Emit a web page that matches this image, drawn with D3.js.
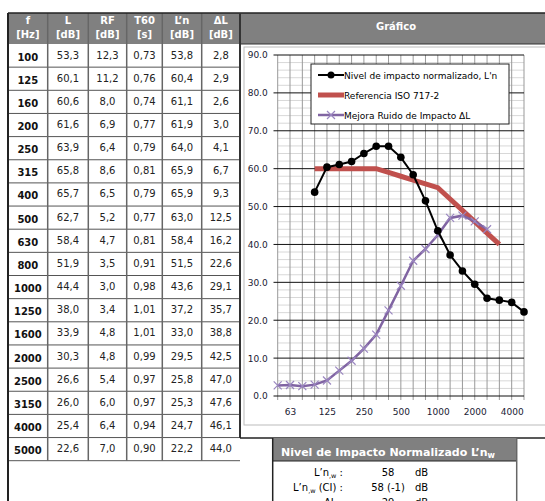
<!DOCTYPE html>
<html>
<head>
<meta charset="utf-8">
<script src="https://cdn.jsdelivr.net/npm/d3@7"></script>
<style>
  body { margin: 0; background: #fff; }
  svg { display: block; font-family: "DejaVu Sans", Verdana, sans-serif; }
</style>
</head>
<body>
<div id="chart"></div>
<script>
// category axis of the graph (third-octave bands)
var axisCats = ["50","63","80","100","125","160","200","250","315","400","500","630","800","1000","1250","1600","2000","2500","3150","4000","5000"];
var axisLabels = ["63","125","250","500","1000","2000","4000"];
var yTicks = [0,10,20,30,40,50,60,70,80,90];

// table data
var freqs  = [100,125,160,200,250,315,400,500,630,800,1000,1250,1600,2000,2500,3150,4000,5000];
var levelL = [53.3,60.1,60.6,61.6,63.9,65.8,65.7,62.7,58.4,51.9,44.4,38.0,33.9,30.3,26.6,26.0,25.4,22.6];
var rf     = [12.3,11.2,8.0,6.9,6.4,8.6,6.5,5.2,4.7,3.5,3.0,3.4,4.8,4.8,5.4,6.0,6.4,7.0];
var t60    = [0.73,0.76,0.74,0.77,0.79,0.81,0.79,0.77,0.81,0.91,0.98,1.01,1.01,0.99,0.97,0.97,0.94,0.90];
var lnPrime = [53.8,60.4,61.1,61.9,64.0,65.9,65.9,63.0,58.4,51.5,43.6,37.2,33.0,29.5,25.8,25.3,24.7,22.2];
var deltaL = [2.8,2.9,2.6,3.0,4.1,6.7,9.3,12.5,16.2,22.6,29.1,35.7,38.8,42.5,47.0,47.6,46.1,44.0];
// shifted ISO 717-2 reference curve, 100..3150 Hz
var isoRef = [60,60,60,60,60,60,59,58,57,56,55,52,49,46,43,40];

var legendNames = ["Nivel de impacto normalizado, L'n", "Referencia ISO 717-2", "Mejora Ruido de Impacto \u0394L"];

var W = 545, H = 501;
var svg = d3.select("#chart").append("svg")
    .attr("width", W)
    .attr("height", H);

var gray = "#808080";
var comma = function (f) { return function (v) { return d3.format(f)(v).replace(".", ","); }; };

// ---------- table ----------
var colX = [8, 47.7, 88.3, 126.7, 162.3, 201.7, 240];
var headTop = 13, headBot = 44, rowH = (460.7 - 44) / 18;
var heads = [["f","[Hz]"],["L","[dB]"],["RF","[dB]"],["T60","[s]"],["L\u2019n","[dB]"],["\u0394L","[dB]"]];

svg.append("rect")
    .attr("x", colX[0]).attr("y", headTop)
    .attr("width", W - colX[0]).attr("height", headBot - headTop)
    .style("fill", gray);

heads.forEach(function (h, i) {
    var cx = (colX[i] + colX[i + 1]) / 2;
    svg.append("text")
        .attr("x", cx).attr("y", 23.5)
        .attr("text-anchor", "middle")
        .style("font-size", "10px").style("font-weight", "bold").style("fill", "#fff")
        .text(h[0]);
    svg.append("text")
        .attr("x", cx).attr("y", 37.5)
        .attr("text-anchor", "middle")
        .style("font-size", "10px").style("font-weight", "bold").style("fill", "#fff")
        .text(h[1]);
});

var cols = [freqs, levelL, rf, t60, lnPrime, deltaL];
var fmts = [d3.format("d"), comma(".1f"), comma(".1f"), comma(".2f"), comma(".1f"), comma(".1f")];

freqs.forEach(function (f, r) {
    var y0 = headBot + r * rowH;
    cols.forEach(function (c, i) {
        svg.append("text")
            .attr("x", (colX[i] + colX[i + 1]) / 2)
            .attr("y", y0 + rowH / 2 + (i === 0 ? 5 : 3))
            .attr("text-anchor", "middle")
            .style("font-size", "10px")
            .style("font-weight", i === 0 ? "bold" : "normal")
            .style("fill", i === 0 ? "#111" : "#222")
            .text(fmts[i](c[r]));
    });
    svg.append("line")
        .attr("x1", colX[0]).attr("x2", colX[6])
        .attr("y1", y0 + rowH).attr("y2", y0 + rowH)
        .style("stroke", "#555").style("stroke-width", 1);
});

colX.slice(1, 6).forEach(function (x) {
    svg.append("line")
        .attr("x1", x).attr("x2", x)
        .attr("y1", headTop).attr("y2", headBot + 18 * rowH)
        .style("stroke", "#666").style("stroke-width", 1.5);
});

// outer dark borders
svg.append("line").attr("x1", colX[0]).attr("x2", W).attr("y1", headTop).attr("y2", headTop)
    .style("stroke", "#222").style("stroke-width", 1.5);
svg.append("line").attr("x1", colX[0]).attr("x2", colX[0]).attr("y1", headTop).attr("y2", H)
    .style("stroke", "#222").style("stroke-width", 2);
svg.append("line").attr("x1", 240).attr("x2", 240).attr("y1", headTop).attr("y2", 438)
    .style("stroke", "#333").style("stroke-width", 2);
svg.append("line").attr("x1", 240).attr("x2", W).attr("y1", headBot).attr("y2", headBot)
    .style("stroke", "#333").style("stroke-width", 1);

svg.append("text")
    .attr("x", 396).attr("y", 30)
    .attr("text-anchor", "middle")
    .style("font-size", "10px").style("font-weight", "bold").style("fill", "#fff")
    .text("Gr\u00e1fico");

// ---------- chart ----------
svg.append("rect")
    .attr("x", 244).attr("y", 47)
    .attr("width", W - 244 + 2).attr("height", 425 - 47)
    .style("fill", "#fff").style("stroke", "#bbb").style("stroke-width", 1);

var x = d3.scalePoint().domain(axisCats).range([277.7, 524]);
var y = d3.scaleLinear().domain([0, 90]).range([396, 55]);

var grid = svg.append("g");
grid.selectAll("line.minor")
    .data(d3.range(0, 91, 2).filter(function (d) { return d % 10 !== 0; }))
    .enter().append("line")
    .attr("x1", 277.7).attr("x2", 524)
    .attr("y1", function (d) { return y(d); }).attr("y2", function (d) { return y(d); })
    .style("stroke", "#d8d8d8").style("stroke-width", 1);
grid.selectAll("line.vert")
    .data(axisCats)
    .enter().append("line")
    .attr("x1", function (d) { return x(d); }).attr("x2", function (d) { return x(d); })
    .attr("y1", y(90)).attr("y2", y(0) + 4)
    .style("stroke", "#999").style("stroke-width", 1);
grid.selectAll("line.major")
    .data(yTicks)
    .enter().append("line")
    .attr("x1", 273.5).attr("x2", 524)
    .attr("y1", function (d) { return y(d); }).attr("y2", function (d) { return y(d); })
    .style("stroke", "#111").style("stroke-width", 1);

// axes
var yAxis = svg.append("g")
    .attr("transform", "translate(277.7,0)")
    .call(d3.axisLeft(y).tickValues(yTicks).tickSize(0).tickPadding(10).tickFormat(d3.format(".1f")));
yAxis.select(".domain").remove();
yAxis.selectAll("text").style("font-size", "9px").style("font-family", "DejaVu Sans").style("fill", "#1a1a33");

var xAxis = svg.append("g")
    .attr("transform", "translate(0,396)")
    .call(d3.axisBottom(x).tickValues(axisLabels).tickSize(0).tickPadding(13));
xAxis.select(".domain").remove();
xAxis.selectAll("text").style("font-size", "9px").style("font-family", "DejaVu Sans").style("fill", "#1a1a33");

// series
var lnPts = lnPrime.map(function (v, i) { return [x(String(freqs[i])), y(v)]; });
var refPts = isoRef.map(function (v, i) { return [x(String(freqs[i])), y(v)]; });
// as in the source sheet, ΔL is plotted from the first category of the axis
var dlPts = deltaL.map(function (v, i) { return [x(axisCats[i]), y(v)]; });

var line = d3.line();

svg.append("path")
    .attr("d", line(refPts))
    .style("fill", "none").style("stroke", "#c0504d").style("stroke-width", 5);

svg.append("path")
    .attr("d", line(dlPts))
    .style("fill", "none").style("stroke", "#8064a2").style("stroke-width", 2.5);
dlPts.forEach(function (p) {
    var s = 4;
    svg.append("path")
        .attr("d", "M" + (p[0] - s) + "," + (p[1] - s) + "L" + (p[0] + s) + "," + (p[1] + s) +
                   "M" + (p[0] - s) + "," + (p[1] + s) + "L" + (p[0] + s) + "," + (p[1] - s))
        .style("stroke", "#9a86c0").style("stroke-width", 1.2).style("fill", "none");
});

svg.append("path")
    .attr("d", line(lnPts))
    .style("fill", "none").style("stroke", "#000").style("stroke-width", 2);
svg.selectAll("circle.ln")
    .data(lnPts)
    .enter().append("circle")
    .attr("cx", function (d) { return d[0]; })
    .attr("cy", function (d) { return d[1]; })
    .attr("r", 3.8)
    .style("fill", "#000");

// legend
var lg = svg.append("g");
lg.append("rect")
    .attr("x", 311).attr("y", 64).attr("width", 198).attr("height", 60)
    .style("fill", "#fff").style("stroke", "#222").style("stroke-width", 1);
legendNames.forEach(function (name, i) {
    var ly = 75 + i * 20;
    var sw = lg.append("g");
    if (i === 0) {
        sw.append("line").attr("x1", 318).attr("x2", 344).attr("y1", ly).attr("y2", ly)
            .style("stroke", "#000").style("stroke-width", 2);
        sw.append("circle").attr("cx", 331).attr("cy", ly).attr("r", 3.5).style("fill", "#000");
    } else if (i === 1) {
        sw.append("line").attr("x1", 318).attr("x2", 344).attr("y1", ly).attr("y2", ly)
            .style("stroke", "#c0504d").style("stroke-width", 5);
    } else {
        sw.append("line").attr("x1", 318).attr("x2", 344).attr("y1", ly).attr("y2", ly)
            .style("stroke", "#8064a2").style("stroke-width", 2.5);
        sw.append("path")
            .attr("d", "M327,111L335,119M327,119L335,111")
            .style("stroke", "#9a86c0").style("stroke-width", 1.2);
    }
    lg.append("text")
        .attr("x", 344).attr("y", ly + 3.5)
        .style("font-size", "9px").style("fill", "#000")
        .text(name);
});

// ---------- bottom summary box ----------
svg.append("line").attr("x1", 240).attr("x2", W).attr("y1", 438).attr("y2", 438)
    .style("stroke", "#222").style("stroke-width", 1.5);
svg.append("rect")
    .attr("x", 272.7).attr("y", 438).attr("width", 244).attr("height", 23)
    .style("fill", gray);
svg.append("line").attr("x1", 272.7).attr("x2", 516.7).attr("y1", 461).attr("y2", 461)
    .style("stroke", "#222").style("stroke-width", 1.2);
svg.append("line").attr("x1", 272.7).attr("x2", 272.7).attr("y1", 438).attr("y2", H)
    .style("stroke", "#222").style("stroke-width", 1.5);
svg.append("line").attr("x1", 516.7).attr("x2", 516.7).attr("y1", 438).attr("y2", H)
    .style("stroke", "#666").style("stroke-width", 1.5);

var title = svg.append("text")
    .attr("x", 281).attr("y", 456)
    .style("font-size", "11px").style("font-weight", "bold").style("fill", "#fff");
title.append("tspan").text("Nivel de Impacto Normalizado L\u2019n");
title.append("tspan").attr("dy", 2).style("font-size", "8px").text("w");

var summaryLabels = [["L\u2019n", ",w", " :"], ["L\u2019n", ",w", " (CI) :"], ["\u0394L", "", " :"]];
var summaryValues = ["58", "58 (-1)", "29"];
summaryLabels.forEach(function (lab, i) {
    var by = 476 + i * 15;
    var t = svg.append("text")
        .attr("x", 343).attr("y", by)
        .attr("text-anchor", "end")
        .style("font-size", "10px").style("fill", "#000");
    t.append("tspan").text(lab[0]);
    if (lab[1]) t.append("tspan").attr("dy", 2).style("font-size", "6.5px").text(lab[1]);
    t.append("tspan").attr("dy", lab[1] ? -2 : 0).text(lab[2]);
    svg.append("text")
        .attr("x", 388).attr("y", by)
        .attr("text-anchor", "middle")
        .style("font-size", "10px").style("fill", "#000")
        .text(summaryValues[i]);
    svg.append("text")
        .attr("x", 415).attr("y", by)
        .style("font-size", "10px").style("fill", "#000")
        .text("dB");
});
</script>
</body>
</html>
